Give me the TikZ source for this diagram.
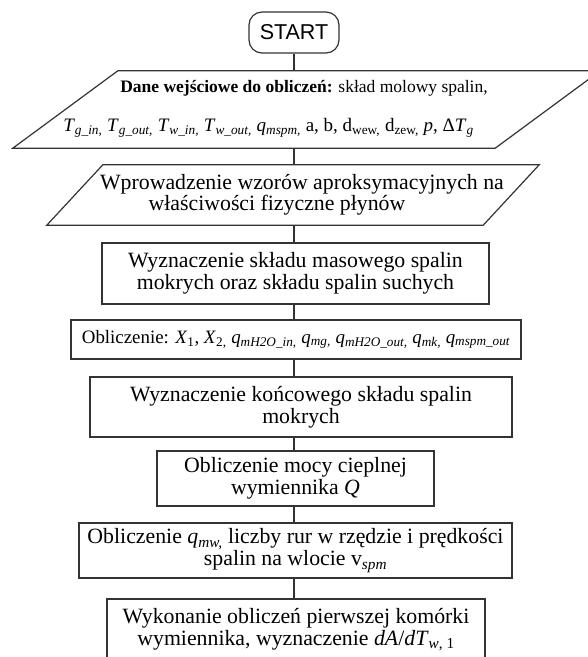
\documentclass[tikz,border=0pt]{standalone}
\usepackage{fontspec}
\setmainfont{Liberation Serif}
\newfontfamily\startfont{Liberation Sans}
\newcommand{\isub}[1]{\textsubscript{\itshape #1}}
\newcommand{\rsub}[1]{\textsubscript{#1}}

\begin{document}
\begin{tikzpicture}[x=1pt, y=-1pt,
    line/.style={draw=black!80, line width=1.2pt},
    box/.style={line, fill=white, inner sep=0pt, align=center, font=\fontsize{21.8}{22}\selectfont},
    bigtxt/.style={inner sep=0pt, font=\fontsize{21.8}{22}\selectfont},
    smalltxt/.style={inner sep=0pt, font=\fontsize{17.5}{20}\selectfont}]
        \useasboundingbox (0,0) rectangle (588,657);
        \clip (0,0) rectangle (588,657);

        % Start
        \node[line, rounded corners=13pt, minimum width=90pt, minimum height=41pt, inner sep=0pt, font=\startfont\fontsize{21.5}{22}\selectfont] (start) at (294,32.5) {START};

        % Input data (parallelograms)
        \node[minimum width=482pt, minimum height=77pt, inner sep=0pt] (in1) at (306.5,109.5) {};
        \draw[line] ([xshift=52.5pt]in1.north west) -- ([xshift=52.5pt]in1.north east) -- ([xshift=-52.5pt]in1.south east) -- ([xshift=-52.5pt]in1.south west) -- cycle;
        \node[smalltxt] (in1a) at (304,88) {\textbf{Dane wejściowe do obliczeń:} skład molowy spalin,};
        \node[smalltxt, font=\fontsize{19}{20}\selectfont] (in1b) at (268.5,128) {\textit{T}\isub{g\_in,} \textit{T}\isub{g\_out,} \textit{T}\isub{w\_in,} \textit{T}\isub{w\_out,} \textit{q}\isub{mspm,} a, b, d\rsub{wew,} d\rsub{zew,} \textit{p}, Δ\textit{T}\isub{g}};

        \node[minimum width=436pt, minimum height=60pt, inner sep=0pt] (in2) at (293,195) {};
        \draw[line] ([xshift=28pt]in2.north west) -- ([xshift=28pt]in2.north east) -- ([xshift=-28pt]in2.south east) -- ([xshift=-28pt]in2.south west) -- cycle;
        \node[bigtxt] (in2a) at (302,184) {Wprowadzenie wzorów aproksymacyjnych na};
        \node[bigtxt] (in2b) at (277,205) {właściwości fizyczne płynów};

        % Calculation steps
        \node[box, minimum width=387pt, minimum height=61pt] (mass) at (295.5,273.5) {Wyznaczenie składu masowego spalin\\mokrych oraz składu spalin suchych};
        \node[box, minimum width=450pt, minimum height=39pt, font=\fontsize{18.9}{20}\selectfont] (calc1) at (296,339.5) {Obliczenie: \textit{X}\rsub{1}, \textit{X}\rsub{2,} \textit{q}\isub{mH2O\_in,} \textit{q}\isub{mg,} \textit{q}\isub{mH2O\_out,} \textit{q}\isub{mk,} \textit{q}\isub{mspm\_out}};
        \node[box, minimum width=422pt, minimum height=60pt] (final) at (301,407) {Wyznaczenie końcowego składu spalin\\mokrych};
        \node[box, minimum width=277pt, minimum height=55pt] (heat) at (295.5,478.5) {Obliczenie mocy cieplnej\\wymiennika \textit{Q}};
        \node[box, minimum width=433pt, minimum height=55pt] (pipes) at (295.5,550.5) {Obliczenie \textit{q}\isub{mw,} liczby rur w rzędzie i prędkości\\spalin na wlocie v\isub{spm}};
        \node[box, minimum width=378pt, minimum height=62pt] (cell) at (296,630) {Wykonanie obliczeń pierwszej komórki\\wymiennika, wyznaczenie \textit{dA}/\textit{dT}\textsubscript{\textit{w}, 1}};

        % Connectors
        \foreach \a/\b in {start/in1, in1/in2, in2/mass, mass/calc1, calc1/final, final/heat, heat/pipes, pipes/cell}
            \draw[line] (\a.south -| start) -- (\b.north -| start);
    \end{tikzpicture}
\end{document}
